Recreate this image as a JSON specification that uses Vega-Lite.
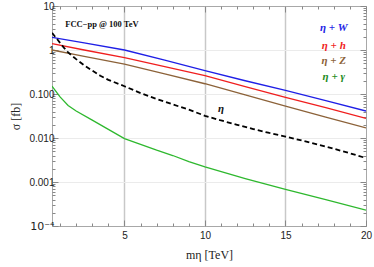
{
  "$schema": "https://vega.github.io/schema/vega-lite/v6.json",
  "width": 314,
  "height": 220,
  "autosize": "none",
  "padding": {"left": 52, "top": 6, "right": 8, "bottom": 41},
  "background": "white",
  "config": {
    "view": {"stroke": "#a8a8a8", "strokeWidth": 1},
    "axis": {"domain": false, "labelFont": "Liberation Sans", "labelFontSize": 10, "labelColor": "#222", "tickColor": "#888", "titleFont": "Liberation Serif", "titleFontWeight": "normal", "titleFontSize": 12, "titleColor": "#222"}
  },
  "datasets": {
    "curves": [
      {"x": 0.5, "y": 1.93, "s": "W"}, {"x": 2.5, "y": 1.45, "s": "W"}, {"x": 5, "y": 1.0, "s": "W"}, {"x": 7.5, "y": 0.59, "s": "W"}, {"x": 10, "y": 0.34, "s": "W"}, {"x": 12.5, "y": 0.2, "s": "W"}, {"x": 15, "y": 0.121, "s": "W"}, {"x": 17.5, "y": 0.071, "s": "W"}, {"x": 20, "y": 0.041, "s": "W"},
      {"x": 0.5, "y": 1.39, "s": "h"}, {"x": 2.5, "y": 1.0, "s": "h"}, {"x": 5, "y": 0.67, "s": "h"}, {"x": 7.5, "y": 0.42, "s": "h"}, {"x": 10, "y": 0.26, "s": "h"}, {"x": 12.5, "y": 0.148, "s": "h"}, {"x": 15, "y": 0.084, "s": "h"}, {"x": 17.5, "y": 0.049, "s": "h"}, {"x": 20, "y": 0.028, "s": "h"},
      {"x": 0.5, "y": 1.0, "s": "Z"}, {"x": 2.5, "y": 0.72, "s": "Z"}, {"x": 5, "y": 0.475, "s": "Z"}, {"x": 7.5, "y": 0.285, "s": "Z"}, {"x": 10, "y": 0.171, "s": "Z"}, {"x": 12.5, "y": 0.095, "s": "Z"}, {"x": 15, "y": 0.053, "s": "Z"}, {"x": 17.5, "y": 0.03, "s": "Z"}, {"x": 20, "y": 0.017, "s": "Z"},
      {"x": 0.5, "y": 0.15, "s": "g"}, {"x": 1.0, "y": 0.086, "s": "g"}, {"x": 1.5, "y": 0.055, "s": "g"}, {"x": 2.0, "y": 0.041, "s": "g"}, {"x": 3, "y": 0.0254, "s": "g"}, {"x": 4, "y": 0.0157, "s": "g"}, {"x": 5, "y": 0.0097, "s": "g"}, {"x": 6, "y": 0.0072, "s": "g"}, {"x": 7, "y": 0.0053, "s": "g"}, {"x": 8, "y": 0.004, "s": "g"}, {"x": 9, "y": 0.0029, "s": "g"}, {"x": 10, "y": 0.0022, "s": "g"}, {"x": 12.5, "y": 0.0012, "s": "g"}, {"x": 15, "y": 0.00068, "s": "g"}, {"x": 17.5, "y": 0.0004, "s": "g"}, {"x": 20, "y": 0.00023, "s": "g"},
      {"x": 0.5, "y": 2.45, "s": "eta"}, {"x": 0.75, "y": 1.9, "s": "eta"}, {"x": 1.0, "y": 1.45, "s": "eta"}, {"x": 1.25, "y": 1.12, "s": "eta"}, {"x": 1.5, "y": 0.88, "s": "eta"}, {"x": 2, "y": 0.62, "s": "eta"}, {"x": 2.5, "y": 0.45, "s": "eta"}, {"x": 3, "y": 0.34, "s": "eta"}, {"x": 3.5, "y": 0.26, "s": "eta"}, {"x": 4, "y": 0.21, "s": "eta"}, {"x": 5, "y": 0.15, "s": "eta"}, {"x": 6, "y": 0.105, "s": "eta"}, {"x": 7, "y": 0.077, "s": "eta"}, {"x": 8, "y": 0.058, "s": "eta"}, {"x": 9, "y": 0.044, "s": "eta"}, {"x": 10, "y": 0.032, "s": "eta"}, {"x": 11, "y": 0.025, "s": "eta"}, {"x": 12, "y": 0.02, "s": "eta"}, {"x": 13, "y": 0.016, "s": "eta"}, {"x": 14, "y": 0.013, "s": "eta"}, {"x": 15, "y": 0.0108, "s": "eta"}, {"x": 16, "y": 0.0088, "s": "eta"}, {"x": 17, "y": 0.0071, "s": "eta"}, {"x": 18, "y": 0.0057, "s": "eta"}, {"x": 19, "y": 0.0045, "s": "eta"}, {"x": 20, "y": 0.0035, "s": "eta"}
    ],
    "notes": [
      {"label": "FCC\u2212pp @ 100 TeV", "k": "head"},
      {"label": "\u03b7 + W", "k": "W"},
      {"label": "\u03b7 + h", "k": "h"},
      {"label": "\u03b7 + Z", "k": "Z"},
      {"label": "\u03b7 + \u03b3", "k": "g"},
      {"label": "\u03b7", "k": "eta"}
    ]
  },
  "data": {"name": "curves"},
  "resolve": {"axis": {"x": "independent", "y": "independent"}},
  "layer": [
    {
      "transform": [{"filter": "datum.s !== 'eta'"}],
      "mark": {"type": "line", "strokeWidth": 1.3, "clip": true},
      "encoding": {
        "x": {"field": "x", "type": "quantitative", "scale": {"domain": [0.5, 20], "nice": false, "zero": false},
          "axis": {"orient": "bottom", "title": "mη [TeV]", "titlePadding": 9, "values": [1,2,3,4,5,6,7,8,9,10,11,12,13,14,15,16,17,18,19,20],
            "labelExpr": "datum.value % 5 == 0 ? datum.label : ''", "labelPadding": 10, "labelFlush": false,
            "tickSize": {"condition": {"test": "datum.value % 5 == 0", "value": -6}, "value": -3},
            "grid": true, "gridColor": "#c8c8c8", "gridWidth": 1.5,
            "gridOpacity": {"condition": {"test": "datum.value % 5 == 0 && datum.value < 20", "value": 1}, "value": 0}}},
        "y": {"field": "y", "type": "quantitative", "scale": {"type": "log", "domain": [0.0001, 10], "nice": false},
          "axis": {"orient": "left", "title": "σ [fb]", "titlePadding": 6, "labelOverlap": false, "labelBound": false,
            "values": [0.0001,0.0002,0.0003,0.0004,0.0005,0.0006,0.0007,0.0008,0.0009,0.001,0.002,0.003,0.004,0.005,0.006,0.007,0.008,0.009,0.01,0.02,0.03,0.04,0.05,0.06,0.07,0.08,0.09,0.1,0.2,0.3,0.4,0.5,0.6,0.7,0.8,0.9,1,2,3,4,5,6,7,8,9,10],
            "labelExpr": "datum.value == 10 ? '10' : datum.value == 1 ? '1' : datum.value == 0.1 ? '0.100' : datum.value == 0.01 ? '0.010' : datum.value == 0.001 ? '0.001' : datum.value == 0.0001 ? '10\u207b\u2074' : ''",
            "labelFont": {"condition": {"test": "datum.value == 0.0001", "value": "DejaVu Sans"}, "value": "Liberation Sans"},
            "labelFontSize": {"condition": {"test": "datum.value == 0.0001", "value": 11}, "value": 10},
            "labelPadding": 4,
            "tickSize": {"condition": {"test": "datum.value == 10 || datum.value == 1 || datum.value == 0.1 || datum.value == 0.01 || datum.value == 0.001 || datum.value == 0.0001", "value": -6}, "value": -3},
            "grid": true, "gridColor": "#ebebeb", "gridWidth": 1,
            "gridOpacity": {"condition": {"test": "datum.value == 1 || datum.value == 0.1 || datum.value == 0.01 || datum.value == 0.001", "value": 1}, "value": 0}}},
        "color": {"field": "s", "type": "nominal", "legend": null,
          "scale": {"domain": ["W", "h", "Z", "g"], "range": ["#1f1fe6", "#f01e1e", "#8c6239", "#2eb82e"]}}
      }
    },
    {
      "transform": [{"filter": "datum.s === 'eta'"}],
      "mark": {"type": "line", "strokeWidth": 1.8, "strokeDash": [5, 3], "color": "black", "clip": true},
      "encoding": {
        "x": {"field": "x", "type": "quantitative", "axis": null},
        "y": {"field": "y", "type": "quantitative", "axis": null}
      }
    },
    {
      "transform": [{"filter": "datum.s === 'W'"}],
      "mark": {"type": "point", "opacity": 0},
      "encoding": {
        "x": {"field": "x", "type": "quantitative",
          "axis": {"orient": "top", "title": null, "labels": false, "grid": false, "values": [1,2,3,4,5,6,7,8,9,10,11,12,13,14,15,16,17,18,19,20],
            "tickSize": {"condition": {"test": "datum.value % 5 == 0", "value": -6}, "value": -3}}},
        "y": {"field": "y", "type": "quantitative",
          "axis": {"orient": "right", "title": null, "labels": false, "grid": false,
            "values": [0.0001,0.0002,0.0003,0.0004,0.0005,0.0006,0.0007,0.0008,0.0009,0.001,0.002,0.003,0.004,0.005,0.006,0.007,0.008,0.009,0.01,0.02,0.03,0.04,0.05,0.06,0.07,0.08,0.09,0.1,0.2,0.3,0.4,0.5,0.6,0.7,0.8,0.9,1,2,3,4,5,6,7,8,9,10],
            "tickSize": {"condition": {"test": "datum.value == 10 || datum.value == 1 || datum.value == 0.1 || datum.value == 0.01 || datum.value == 0.001 || datum.value == 0.0001", "value": -6}, "value": -3}}}
      }
    },
    {
      "data": {"name": "notes"},
      "transform": [{"filter": "datum.k === 'head'"}],
      "mark": {"type": "text", "font": "Liberation Serif", "fontWeight": "bold", "fontSize": 8.5, "fill": "#111", "align": "center", "baseline": "middle"},
      "encoding": {"text": {"field": "label"}, "x": {"datum": 3.6, "type": "quantitative", "axis": null}, "y": {"datum": 4.0, "type": "quantitative", "axis": null}}
    },
    {
      "data": {"name": "notes"},
      "transform": [{"filter": "datum.k === 'W'"}],
      "mark": {"type": "text", "font": "Liberation Serif", "fontWeight": "bold", "fontStyle": "italic", "fontSize": 11, "fill": "#1f1fe6", "align": "center", "baseline": "middle"},
      "encoding": {"text": {"field": "label"}, "x": {"datum": 18.0, "type": "quantitative", "axis": null}, "y": {"datum": 3.2, "type": "quantitative", "axis": null}}
    },
    {
      "data": {"name": "notes"},
      "transform": [{"filter": "datum.k === 'h'"}],
      "mark": {"type": "text", "font": "Liberation Serif", "fontWeight": "bold", "fontStyle": "italic", "fontSize": 11, "fill": "#f01e1e", "align": "center", "baseline": "middle"},
      "encoding": {"text": {"field": "label"}, "x": {"datum": 18.0, "type": "quantitative", "axis": null}, "y": {"datum": 1.23, "type": "quantitative", "axis": null}}
    },
    {
      "data": {"name": "notes"},
      "transform": [{"filter": "datum.k === 'Z'"}],
      "mark": {"type": "text", "font": "Liberation Serif", "fontWeight": "bold", "fontStyle": "italic", "fontSize": 11, "fill": "#8c6239", "align": "center", "baseline": "middle"},
      "encoding": {"text": {"field": "label"}, "x": {"datum": 18.0, "type": "quantitative", "axis": null}, "y": {"datum": 0.565, "type": "quantitative", "axis": null}}
    },
    {
      "data": {"name": "notes"},
      "transform": [{"filter": "datum.k === 'g'"}],
      "mark": {"type": "text", "font": "Liberation Serif", "fontWeight": "bold", "fontStyle": "italic", "fontSize": 11, "fill": "#1e8c1e", "align": "center", "baseline": "middle"},
      "encoding": {"text": {"field": "label"}, "x": {"datum": 18.0, "type": "quantitative", "axis": null}, "y": {"datum": 0.246, "type": "quantitative", "axis": null}}
    },
    {
      "data": {"name": "notes"},
      "transform": [{"filter": "datum.k === 'eta'"}],
      "mark": {"type": "text", "font": "Liberation Serif", "fontWeight": "bold", "fontStyle": "italic", "fontSize": 11, "fill": "#111", "align": "center", "baseline": "middle"},
      "encoding": {"text": {"field": "label"}, "x": {"datum": 11.0, "type": "quantitative", "axis": null}, "y": {"datum": 0.046, "type": "quantitative", "axis": null}}
    }
  ]
}
